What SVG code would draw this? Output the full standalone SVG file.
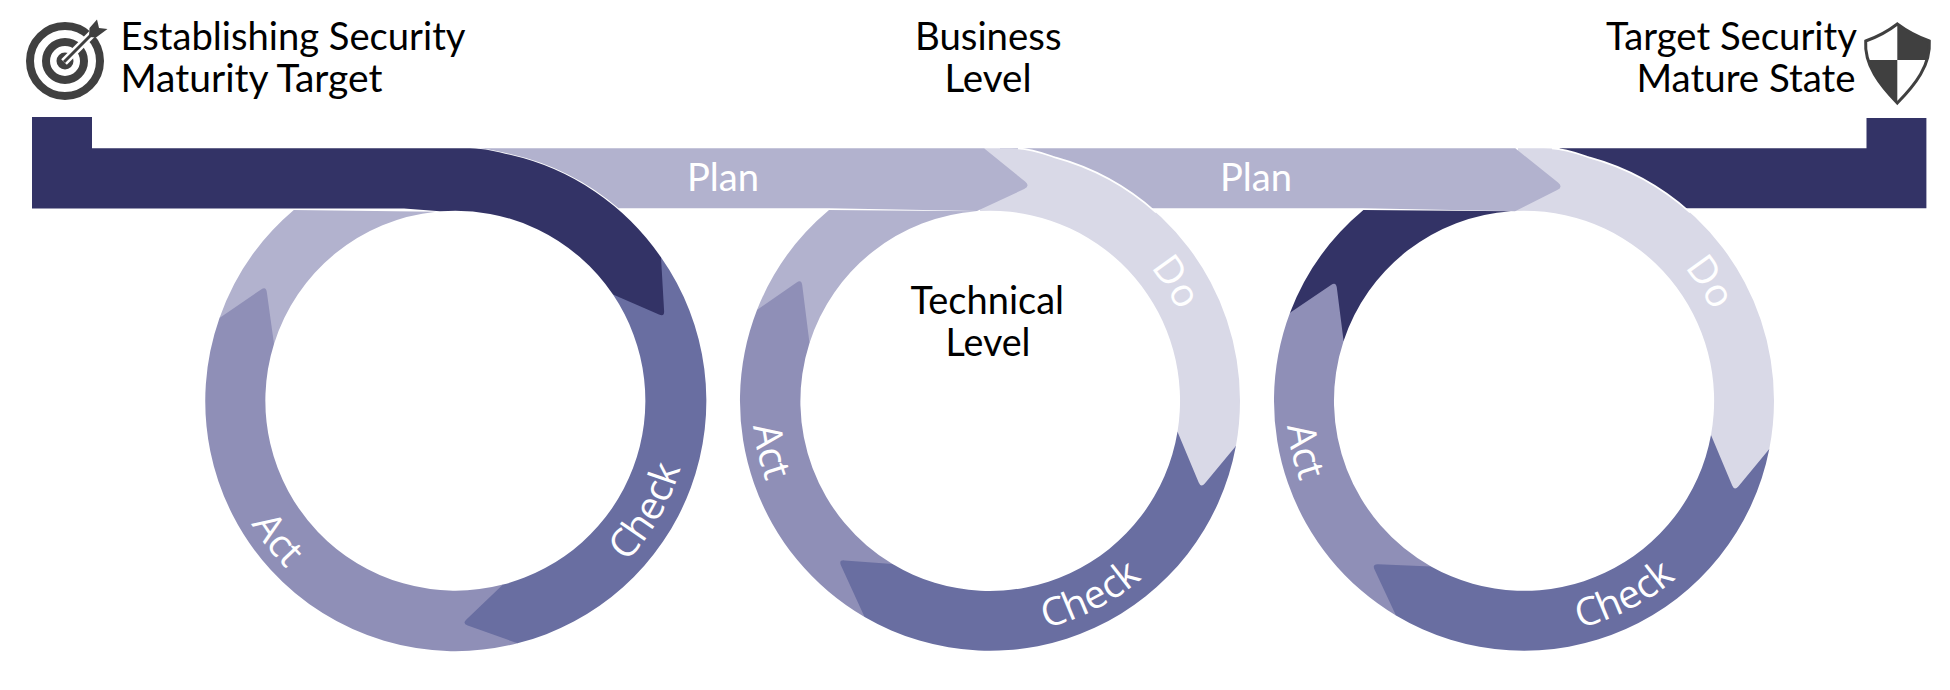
<svg xmlns="http://www.w3.org/2000/svg" width="1950" height="690" viewBox="0 0 1950 690">
<style>
.dark{fill:#333366}.plan{fill:#b2b2ce}.do{fill:#d9d9e7}.act{fill:#8f8fb7}.check{fill:#696ea1}
.edge{fill:none;stroke:#fff;stroke-width:1.7}
.head{font-family:Lato,"Liberation Sans",sans-serif;font-size:39px;fill:#000}
.band{font-family:Lato,"Liberation Sans",sans-serif;font-size:39px;fill:#fff}
.curve{font-family:"Open Sans","Liberation Sans",sans-serif;font-size:39px;fill:#fff;text-anchor:middle}
.ico{fill:#404040}
</style>
<defs>
<path id="p-check1" d="M572.9,604.2A235,235 0 0 0 690.4,400.7"/>
<path id="p-act1" d="M219.7,433.8A236,236 0 0 0 366.2,621.4"/>
<path id="p-do2" d="M1086,216A209,209 0 0 1 1198.6,391"/>
<path id="p-act2" d="M762.4,331.1A238,238 0 0 0 816,563"/>
<path id="p-check2" d="M978.2,634.4A234,234 0 0 0 1186.5,527.8"/>
<path id="p-do3" d="M1620,216A209,209 0 0 1 1732.6,391"/>
<path id="p-act3" d="M1296.4,331.1A238,238 0 0 0 1350,563"/>
<path id="p-check3" d="M1512.2,634.4A234,234 0 0 0 1720.5,527.8"/>
<clipPath id="shield-clip"><path d="M1897.3,24C1908,32 1918,37 1929.3,41C1931,65 1915,85 1897.3,103C1880,85 1864,65 1865.7,41C1877,37 1887,32 1897.3,24Z"/></clipPath>
</defs>
<rect width="1950" height="690" fill="#fff"/>

<g id="connectors">
<g id="ring3">
<path class="dark" d="M1559,148.3H1866.5V118H1926.4V208.3H1650Z"/>
<path class="dark" d="M1363.4,210L1511,211.2A190,190 0 0 0 1343.6,341L1290,312.7A250,250 0 0 1 1363.4,210Z"/>
<path class="act" d="M1290,312.7L1331,284.9Q1336,281.5 1336.8,287.5L1343.6,341A190,190 0 0 0 1431,566.4L1396,615.5A250,250 0 0 1 1290,312.7Z"/>
<path class="check" d="M1374.5,569.4L1396,615.5A250,250 0 0 0 1769.3,449L1711,435A190,190 0 0 1 1431,566.4L1378,564.2Q1372,564 1374.5,569.4Z"/>
<path class="do" d="M1518,148.3H1544C1564,148.6 1579,154 1589,157.4A250,252 0 0 1 1774,400.7A250,250 0 0 1 1769.3,449L1738.3,486.4Q1734.5,491 1732.2,485.5L1711,435A190,190 0 0 0 1524,210.7L1514,211Z"/>
<path class="edge" d="M1552,148.4C1566,149 1579,154 1589,157.4A250,252 0 0 1 1690,212.3"/>
</g>
<g id="plan2"><path class="plan" d="M1000,148.3H1515.3L1558,182.6Q1563.5,187 1557.2,190.1L1515,211.3L1363,208.3H1000Z"/></g>
<g id="ring2">
<path class="plan" d="M829,210L977,211.2A190,190 0 0 0 809.5,343L757,310A250,250 0 0 1 829,210Z"/>
<path class="act" d="M757,310L796.6,282.4Q801.5,279 802.2,285L809.5,343A190,190 0 0 0 892.5,564L864.6,617A250,250 0 0 1 757,310Z"/>
<path class="check" d="M841,565.5L864.6,617A250,250 0 0 0 1235.9,446L1177.5,431.7A190,190 0 0 1 892.5,564L844.5,560.4Q838.5,560 841,565.5Z"/>
<path class="do" d="M984,148.3H1010C1030,148.6 1045,154 1055,157.4A250,252 0 0 1 1240,400.7A250,250 0 0 1 1235.9,446L1204.8,483.4Q1201,488 1198.7,482.5L1177.5,431.7A190,190 0 0 0 990,210.7L980,211Z"/>
<path class="edge" d="M1018,148.4C1032,149 1045,154 1055,157.4A250,252 0 0 1 1156,212.3"/>
</g>
<g id="plan1"><path class="plan" d="M470,148.3H984L1025.1,181.6Q1030.5,186 1024.2,189L977,211L829,208.3H470Z"/></g>
<g id="ring1">
<path class="plan" d="M293.8,210L436,211.7A190,190 0 0 0 274,344L219.5,318A250,250 0 0 1 293.8,210Z"/>
<path class="act" d="M219.5,318L261.1,289.5Q266,286 266.8,292L274,344A190,190 0 0 0 503,584.6L517.5,643.3A250,250 0 0 1 219.5,318Z"/>
<path class="check" d="M467.7,625.5L517.5,643.3A250,250 0 0 0 661,257.3L613,294.6A190,190 0 0 1 503,584.6L466.4,619.4Q462,623.5 467.7,625.5Z"/>
<path class="edge" d="M470,148.3C485,148.4 497,152 510,154.8A250,252 0 0 1 618,209"/>
<path class="dark" d="M32,117H92V148.3H470C485,148.4 497,152 510,154.8A250,252 0 0 1 661,257.3L664.1,311Q664.5,317 659,314.6L613,294.6A190,190 0 0 0 440,211.3L404,208.4H32Z"/>
</g>
</g>

<g id="band-labels">
<text class="band" x="687" y="191" textLength="72" lengthAdjust="spacingAndGlyphs">Plan</text>
<text class="band" x="1220" y="191" textLength="72" lengthAdjust="spacingAndGlyphs">Plan</text>
<text class="curve"><textPath href="#p-check1" startOffset="50%">Check</textPath></text>
<text class="curve"><textPath href="#p-act1" startOffset="50%">Act</textPath></text>
<text class="curve"><textPath href="#p-do2" startOffset="50%">Do</textPath></text>
<text class="curve"><textPath href="#p-act2" startOffset="50%">Act</textPath></text>
<text class="curve"><textPath href="#p-check2" startOffset="50%">Check</textPath></text>
<text class="curve"><textPath href="#p-do3" startOffset="50%">Do</textPath></text>
<text class="curve"><textPath href="#p-act3" startOffset="50%">Act</textPath></text>
<text class="curve"><textPath href="#p-check3" startOffset="50%">Check</textPath></text>
</g>

<g id="start-label">
<text class="head" x="120.5" y="50" textLength="345" lengthAdjust="spacingAndGlyphs">Establishing Security</text>
<text class="head" x="120.5" y="91.7" textLength="262" lengthAdjust="spacingAndGlyphs">Maturity Target</text>
</g>
<g id="business-label">
<text class="head" x="915" y="50" textLength="146.5" lengthAdjust="spacingAndGlyphs">Business</text>
<text class="head" x="944.5" y="91.7" textLength="87" lengthAdjust="spacingAndGlyphs">Level</text>
</g>
<g id="technical-label">
<text class="head" x="910.5" y="314" textLength="153.5" lengthAdjust="spacingAndGlyphs">Technical</text>
<text class="head" x="945.5" y="356" textLength="85" lengthAdjust="spacingAndGlyphs">Level</text>
</g>
<g id="end-label">
<text class="head" x="1606" y="50" textLength="251" lengthAdjust="spacingAndGlyphs">Target Security</text>
<text class="head" x="1636.5" y="91.7" textLength="219" lengthAdjust="spacingAndGlyphs">Mature State</text>
</g>

<g id="target-icon">
<circle cx="65" cy="61" r="35" fill="none" stroke="#404040" stroke-width="8"/>
<circle cx="65" cy="61" r="19" fill="none" stroke="#404040" stroke-width="8"/>
<circle cx="65" cy="61" r="8.5" fill="#404040"/>
<path d="M64,62L98,28" stroke="#fff" stroke-width="8" fill="none"/>
<path d="M64,62L96,30" stroke="#404040" stroke-width="3" fill="none"/>
<polygon class="ico" points="97,19.5 99,28 107.5,29 96,37.5 89,37 89.5,28"/>
</g>
<g id="shield-icon">
<path d="M1897.3,24C1908,32 1918,37 1929.3,41C1931,65 1915,85 1897.3,103C1880,85 1864,65 1865.7,41C1877,37 1887,32 1897.3,24Z" fill="#fff"/>
<g clip-path="url(#shield-clip)">
<rect class="ico" x="1897.3" y="20" width="36" height="40"/>
<rect class="ico" x="1860" y="60" width="37.3" height="45"/>
</g>
<path d="M1897.3,24C1908,32 1918,37 1929.3,41C1931,65 1915,85 1897.3,103C1880,85 1864,65 1865.7,41C1877,37 1887,32 1897.3,24Z" fill="none" stroke="#404040" stroke-width="3"/>
</g>
</svg>
